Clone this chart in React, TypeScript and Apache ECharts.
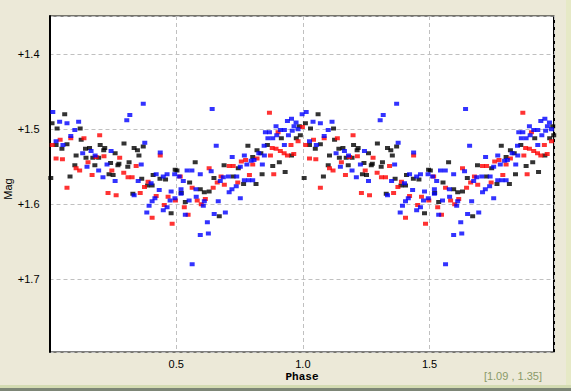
import React, { useEffect, useRef } from "react";
import * as echarts from "echarts";

// [phase, mag] for one cycle (0..1); the chart shows two cycles
const blackPts: number[][] = [
  [0.060,1.480],[0.010,1.492],[0.030,1.499],[0.121,1.499],[0.125,1.514],[0.069,1.520],[0.026,1.521],[0.049,1.526],
  [0.142,1.526],[0.158,1.525],[0.200,1.521],[0.218,1.525],[0.214,1.528],[0.259,1.532],[0.294,1.519],[0.334,1.525],
  [0.347,1.528],[0.370,1.523],[0.353,1.535],[0.105,1.535],[0.144,1.538],[0.171,1.538],[0.194,1.538],[0.314,1.544],
  [0.274,1.546],[0.270,1.548],[0.241,1.545],[0.179,1.548],[0.100,1.548],[0.309,1.550],[0.235,1.560],[0.251,1.561],
  [0.081,1.563],[0.005,1.565],[0.364,1.566],[0.409,1.561],[0.436,1.566],[0.458,1.567],[0.496,1.554],[0.387,1.575],
  [0.405,1.575],[0.329,1.586],[0.480,1.612],[0.783,1.522],[0.819,1.528],[0.834,1.532],[0.860,1.521],[0.915,1.512],
  [0.974,1.512],[0.990,1.508],[0.986,1.496],[0.955,1.535],[0.881,1.549],[0.575,1.544],[0.689,1.548],[0.745,1.552],
  [0.802,1.537],[0.839,1.560],[0.930,1.557],[0.649,1.565],[0.725,1.563],[0.815,1.573],[0.553,1.571],[0.503,1.555],
  [0.520,1.585],[0.595,1.580],[0.611,1.584],[0.630,1.583],[0.536,1.597],[0.670,1.616],[0.766,1.573],[0.907,1.544]
];

const redPts: number[][] = [
  [0.042,1.514],[0.011,1.521],[0.084,1.512],[0.136,1.512],[0.198,1.508],[0.026,1.539],[0.051,1.540],[0.184,1.537],
  [0.215,1.536],[0.277,1.538],[0.152,1.544],[0.105,1.552],[0.119,1.555],[0.246,1.555],[0.168,1.561],[0.293,1.558],
  [0.310,1.564],[0.326,1.564],[0.342,1.549],[0.437,1.535],[0.389,1.570],[0.069,1.578],[0.231,1.585],[0.263,1.588],
  [0.358,1.585],[0.375,1.577],[0.421,1.589],[0.468,1.590],[0.453,1.601],[0.405,1.618],[0.484,1.626],[0.868,1.478],
  [0.998,1.497],[0.902,1.504],[0.981,1.516],[0.953,1.521],[0.879,1.525],[0.894,1.526],[0.911,1.529],[0.926,1.532],
  [0.939,1.535],[0.964,1.533],[0.872,1.535],[0.819,1.539],[0.774,1.541],[0.757,1.543],[0.802,1.547],[0.709,1.549],
  [0.725,1.549],[0.630,1.552],[0.789,1.561],[0.885,1.560],[0.677,1.563],[0.743,1.571],[0.662,1.571],[0.690,1.574],
  [0.516,1.563],[0.563,1.578],[0.646,1.578],[0.615,1.593],[0.583,1.595],[0.532,1.604],[0.599,1.600],[0.547,1.614],
  [0.497,1.595]
];

const bluePts: number[][] = [
  [0.370,1.466],[0.013,1.477],[0.317,1.481],[0.305,1.488],[0.040,1.490],[0.069,1.492],[0.115,1.490],[0.100,1.501],
  [0.026,1.516],[0.084,1.509],[0.053,1.521],[0.376,1.518],[0.437,1.531],[0.131,1.532],[0.164,1.529],[0.180,1.535],
  [0.243,1.529],[0.148,1.550],[0.227,1.547],[0.362,1.547],[0.194,1.555],[0.211,1.564],[0.259,1.569],[0.350,1.569],
  [0.401,1.572],[0.421,1.560],[0.449,1.563],[0.464,1.560],[0.494,1.560],[0.334,1.588],[0.433,1.581],[0.480,1.583],
  [0.416,1.592],[0.405,1.596],[0.476,1.595],[0.495,1.592],[0.393,1.602],[0.464,1.604],[0.384,1.611],[0.449,1.608],
  [0.642,1.473],[0.997,1.480],[0.939,1.489],[0.955,1.486],[0.973,1.491],[0.965,1.496],[0.981,1.500],[0.894,1.496],
  [0.911,1.501],[0.927,1.501],[0.958,1.502],[0.852,1.504],[0.868,1.504],[0.897,1.508],[0.862,1.512],[0.881,1.512],
  [0.943,1.508],[0.927,1.521],[0.847,1.522],[0.658,1.522],[0.826,1.532],[0.848,1.535],[0.807,1.541],[0.796,1.542],
  [0.769,1.535],[0.721,1.537],[0.779,1.547],[0.753,1.550],[0.840,1.547],[0.543,1.555],[0.562,1.555],[0.595,1.560],
  [0.638,1.556],[0.686,1.564],[0.706,1.563],[0.739,1.563],[0.512,1.563],[0.528,1.569],[0.674,1.569],[0.769,1.568],
  [0.786,1.568],[0.802,1.568],[0.519,1.580],[0.519,1.586],[0.578,1.580],[0.551,1.595],[0.579,1.590],[0.611,1.596],
  [0.607,1.602],[0.666,1.596],[0.709,1.584],[0.720,1.580],[0.737,1.576],[0.753,1.592],[0.536,1.614],[0.650,1.613],
  [0.694,1.611],[0.623,1.624],[0.627,1.639],[0.595,1.641],[0.563,1.680]
];

const X_MIN = 0;
const X_MAX = 1.993;
const Y_MIN = 1.349;
const Y_MAX = 1.797;
const xAxisName = "Phase";
const yAxisName = "Mag";
const cursorText = "[1.09 , 1.35]";

function fold(pts: number[][]): number[][] {
  const out: number[][] = [];
  for (const [p, m] of pts) {
    out.push([p, m]);
    if (p + 1 <= X_MAX) out.push([p + 1, m]);
  }
  return out;
}

const FONT = "'Liberation Sans', Arial, sans-serif";

export default function App() {
  const ref = useRef<HTMLDivElement>(null);
  useEffect(() => {
    if (!ref.current) return;
    const chart = echarts.init(ref.current, undefined, { renderer: "svg" });
    const dashed = { show: true, lineStyle: { color: "#c0c0c0", width: 1, type: [4, 3] as any } };
    const mk = (name: string, color: string, pts: number[][]) => ({
      name,
      type: "scatter",
      data: fold(pts),
      symbol: "rect",
      symbolSize: [5, 4],
      itemStyle: { color },
      clip: true,
      silent: true,
    });
    chart.setOption({
      animation: false,
      backgroundColor: "#ECE9D8",
      grid: {
        left: 49.5, right: 16.5, top: 16, bottom: 39,
        show: true, backgroundColor: "#ffffff", borderColor: "#000000", borderWidth: 1,
      },
      xAxis: {
        type: "value", min: X_MIN, max: X_MAX, interval: 0.5,
        axisLine: { show: false }, axisTick: { show: false },
        splitLine: dashed,
        axisLabel: {
          color: "#000", fontSize: 11, fontFamily: FONT, margin: 6,
          formatter: (v: number) => (v > 0.01 && Math.abs(v * 2 - Math.round(v * 2)) < 1e-6 ? v.toFixed(1) : ""),
        },
      },
      yAxis: {
        type: "value", inverse: true, min: Y_MIN, max: Y_MAX, splitNumber: 5,
        axisLine: { show: true, lineStyle: { color: "#000", width: 2 } }, axisTick: { show: false },
        splitLine: dashed,
        axisLabel: {
          color: "#000", fontSize: 11, fontFamily: FONT, margin: 10,
          formatter: (v: number) => (Math.abs(v * 10 - Math.round(v * 10)) < 1e-6 ? "+" + v.toFixed(1) : ""),
        },
      },
      series: [mk("black", "#000000", blackPts), mk("red", "#ff0000", redPts), mk("blue", "#0000ff", bluePts)],
      graphic: [
        { type: "rect", shape: { x: 566, y: 0, width: 5, height: 391 }, style: { fill: "#E6E9C6" }, silent: true },
        { type: "rect", shape: { x: 0, y: 385, width: 571, height: 3 }, style: { fill: "#D3DBB2" }, silent: true },
        { type: "rect", shape: { x: 0, y: 388, width: 571, height: 3 }, style: { fill: "#7D8676" }, silent: true },
        { type: "rect", shape: { x: 553, y: 16, width: 2, height: 336 }, style: { fill: "#000" }, silent: true },
        {
          type: "text", x: 8, y: 189, rotation: Math.PI / 2,
          style: { text: yAxisName, fontSize: 11, fontFamily: FONT, fill: "#000", textAlign: "center", textVerticalAlign: "middle" },
        },
        {
          type: "text", x: 302, y: 377,
          style: { text: xAxisName, fontSize: 11, fontWeight: "bold", fontFamily: "'Liberation Mono', 'Courier New', monospace", fill: "#000", textAlign: "center", textVerticalAlign: "middle" },
        },
        {
          type: "text", x: 542, y: 376,
          style: { text: cursorText, fontSize: 11, fontFamily: FONT, fill: "#8A9A68", textAlign: "right", textVerticalAlign: "middle" },
        },
      ],
    });
    return () => chart.dispose();
  }, []);
  return <div ref={ref} style={{ position: "fixed", left: 0, top: 0, width: 571, height: 391 }} />;
}
